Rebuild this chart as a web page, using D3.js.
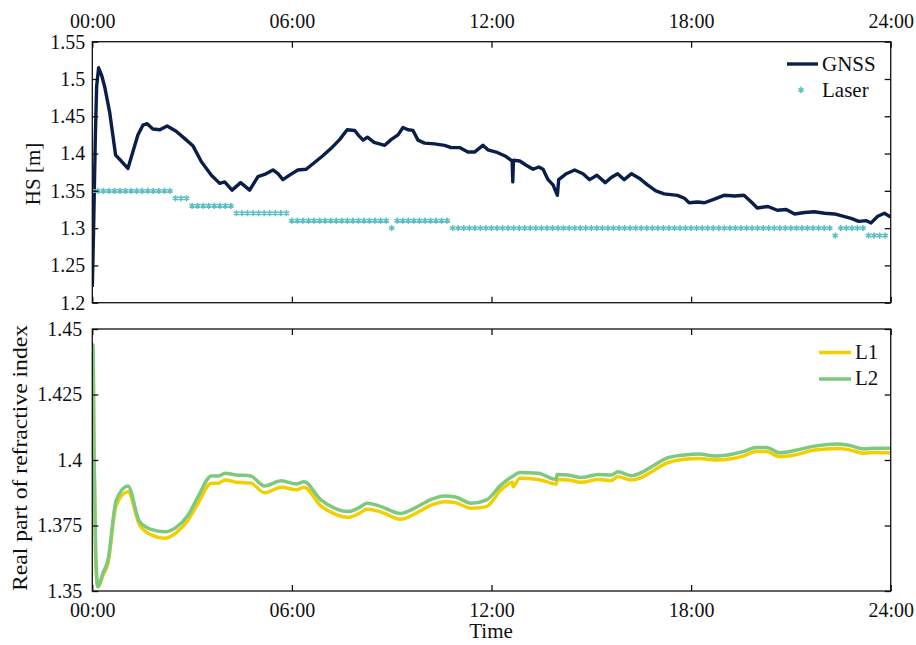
<!DOCTYPE html>
<html><head><meta charset="utf-8">
<script src="https://cdn.jsdelivr.net/npm/d3@7"></script>
<style>
html,body{margin:0;padding:0;background:#fff;}
text{font-family:"Liberation Serif","DejaVu Serif",serif;font-size:20px;fill:#111;}
.lab{font-size:21px;}
</style></head>
<body><svg id="c" width="916" height="645"></svg>
<script>
// ---------- DATA ----------
const xTickHours = [0, 6, 12, 18, 24];
const xTickLabels = ["00:00", "06:00", "12:00", "18:00", "24:00"];
const hsTicks = [1.2, 1.25, 1.3, 1.35, 1.4, 1.45, 1.5, 1.55];
const hsTickLabels = ["1.2", "1.25", "1.3", "1.35", "1.4", "1.45", "1.5", "1.55"];
const nTicks = [1.35, 1.375, 1.4, 1.425, 1.45];
const nTickLabels = ["1.35", "1.375", "1.4", "1.425", "1.45"];

const gnssHours = [0,0.04,0.09,0.13,0.19,0.28,0.37,0.52,0.70,0.87,1.07,1.37,1.52,1.65,1.82,2.03,2.25,2.52,2.78,3.03,3.28,3.58,3.83,3.98,4.20,4.46,4.73,4.98,5.18,5.43,5.58,5.73,5.93,6.18,6.43,6.68,6.93,7.18,7.44,7.66,7.89,8.01,8.14,8.27,8.47,8.79,8.99,9.19,9.34,9.49,9.64,9.79,9.99,10.29,10.59,10.79,11.04,11.29,11.49,11.74,11.89,12.14,12.44,12.62,12.64,12.66,12.85,13.02,13.25,13.42,13.55,13.70,13.85,13.98,14.02,14.25,14.5,14.75,14.95,15.17,15.42,15.6,15.79,15.99,16.21,16.44,16.69,16.94,17.19,17.59,17.8,17.94,18.2,18.4,18.7,18.99,19.31,19.59,19.81,19.99,20.31,20.59,20.86,21.11,21.41,21.71,22.01,22.31,22.56,22.81,23.04,23.27,23.41,23.61,23.81,24];
const gnssHS = [1.221,1.30,1.42,1.49,1.515,1.505,1.49,1.456,1.398,1.39,1.380,1.425,1.438,1.44,1.433,1.432,1.437,1.43,1.42,1.41,1.389,1.371,1.36,1.362,1.351,1.361,1.351,1.369,1.372,1.378,1.373,1.365,1.371,1.378,1.379,1.388,1.397,1.407,1.419,1.432,1.431,1.424,1.418,1.422,1.415,1.411,1.419,1.425,1.435,1.432,1.431,1.418,1.414,1.413,1.411,1.408,1.408,1.402,1.402,1.411,1.405,1.402,1.396,1.390,1.362,1.391,1.390,1.385,1.379,1.382,1.379,1.365,1.358,1.344,1.365,1.373,1.378,1.373,1.365,1.371,1.361,1.368,1.373,1.365,1.373,1.367,1.358,1.350,1.346,1.344,1.340,1.334,1.335,1.334,1.339,1.344,1.343,1.344,1.335,1.327,1.329,1.324,1.325,1.319,1.321,1.322,1.320,1.319,1.316,1.313,1.309,1.310,1.307,1.316,1.320,1.315];

// laser: one reading every 10 minutes (slot i -> i*10 min)
const laserIntervalMin = 10;
const laserHS = [
1.35,1.35,1.35,1.35,1.35,1.35,1.35,1.35,1.35,1.35,1.35,1.35,1.35,1.35,1.35,
1.34,1.34,1.34,
1.33,1.33,1.33,1.33,1.33,1.33,1.33,1.33,
1.32,1.32,1.32,1.32,1.32,1.32,1.32,1.32,1.32,1.32,
1.31,1.31,1.31,1.31,1.31,1.31,1.31,1.31,1.31,1.31,1.31,1.31,1.31,1.31,1.31,1.31,1.31,1.31,
1.30,
1.31,1.31,1.31,1.31,1.31,1.31,1.31,1.31,1.31,1.31,
1.30,1.30,1.30,1.30,1.30,1.30,1.30,1.30,1.30,1.30,1.30,1.30,1.30,1.30,1.30,1.30,1.30,1.30,1.30,1.30,
1.30,1.30,1.30,1.30,1.30,1.30,1.30,1.30,1.30,1.30,1.30,1.30,1.30,1.30,1.30,1.30,1.30,1.30,1.30,1.30,
1.30,1.30,1.30,1.30,1.30,1.30,1.30,1.30,1.30,1.30,1.30,1.30,1.30,1.30,1.30,1.30,1.30,1.30,1.30,1.30,
1.30,1.30,1.30,1.30,1.30,1.30,1.30,1.30,1.30,
1.29,
1.30,1.30,1.30,1.30,1.30,
1.29,1.29,1.29,1.29];

const l2Hours = [0,0.02,0.05,0.10,0.17,0.32,0.47,0.72,1.07,1.42,1.77,2.17,2.52,2.88,3.18,3.58,3.78,4.0,4.33,4.76,5.18,5.68,6.13,6.36,6.88,7.28,7.69,7.99,8.27,8.64,9.27,9.69,10.19,10.59,10.89,11.39,11.84,12.29,12.65,12.85,13.4,13.95,13.97,14.3,14.7,15.2,15.6,15.8,16.2,16.55,16.9,17.25,17.8,18.25,18.7,19.26,19.56,19.96,20.26,20.66,21.11,21.71,22.41,22.71,23.21,23.51,24];
const l2N = [1.418,1.444,1.405,1.365,1.3517,1.3568,1.3618,1.3847,1.3901,1.3765,1.3735,1.3726,1.3743,1.3790,1.3860,1.3939,1.3939,1.3949,1.3943,1.3939,1.3901,1.3921,1.3908,1.3917,1.3847,1.3816,1.3803,1.3816,1.3835,1.3824,1.3796,1.3816,1.3850,1.3863,1.3860,1.3835,1.3847,1.3905,1.3939,1.3952,1.3949,1.3926,1.3945,1.3943,1.3933,1.3945,1.3943,1.3955,1.3940,1.3955,1.3981,1.4006,1.4019,1.4023,1.4015,1.4023,1.4032,1.4048,1.4048,1.4028,1.4036,1.4053,1.4061,1.4057,1.4042,1.4045,1.4045];
const l1Hours = [0,0.02,0.05,0.10,0.17,0.32,0.47,0.72,1.07,1.42,1.77,2.17,2.52,2.88,3.18,3.58,3.78,4.0,4.33,4.76,5.18,5.68,6.13,6.36,6.88,7.28,7.69,7.99,8.27,8.64,9.27,9.69,10.19,10.59,10.89,11.39,11.84,12.29,12.63,12.65,12.85,13.4,13.95,13.97,14.3,14.7,15.2,15.6,15.8,16.2,16.55,16.9,17.25,17.8,18.25,18.7,19.26,19.56,19.96,20.26,20.66,21.11,21.71,22.41,22.71,23.21,23.51,24];
const l1N = [1.416,1.442,1.403,1.363,1.3515,1.3560,1.3605,1.3828,1.3879,1.3752,1.3714,1.3701,1.3722,1.3771,1.3835,1.3911,1.3911,1.3924,1.3915,1.3912,1.3875,1.3896,1.3886,1.3896,1.3824,1.3794,1.3781,1.3794,1.3812,1.3803,1.3774,1.3794,1.3828,1.3841,1.3838,1.3816,1.3822,1.3886,1.3915,1.3898,1.3930,1.3926,1.3908,1.3926,1.3924,1.3915,1.3926,1.3922,1.3936,1.3924,1.3936,1.3962,1.3987,1.4003,1.4006,1.4000,1.4006,1.4015,1.4032,1.4032,1.4013,1.4019,1.4038,1.4044,1.4040,1.4026,1.4029,1.4028];

// ---------- STYLE ----------
const C_GNSS = "#0a1f48", C_LASER = "#5bbfc5", C_L1 = "#f2cf00", C_L2 = "#7ec87f";
const svg = d3.select("#c");
const L = 92.3, R = 890.7;
const P1 = {top: 41.7, bottom: 302.7};
const P2 = {top: 329, bottom: 591};

const x = d3.scaleLinear().domain([0, 24]).range([L, R]);
const y1 = d3.scaleLinear().domain([1.2, 1.55]).range([P1.bottom, P1.top]);
const y2 = d3.scaleLinear().domain([1.35, 1.45]).range([P2.bottom, P2.top]);

function frame(y, P, topLabels, bottomLabels, yTicks, yLabels, yPad) {
  const g = svg.append("g");
  const fmtX = (d) => xTickLabels[xTickHours.indexOf(d)];
  const fmtY = (d) => yLabels[yTicks.indexOf(d)];
  const style = (sel) => { sel.select(".domain").remove(); sel.selectAll("line").attr("stroke", "#111").attr("stroke-width", 1.3); sel.selectAll("text").attr("font-size", null).attr("font-family", null); };
  g.append("g").attr("transform", `translate(0,${P.bottom})`)
    .call(d3.axisBottom(x).tickValues(xTickHours).tickSizeInner(-6).tickSizeOuter(0).tickPadding(bottomLabels ? 11.5 : 0).tickFormat(bottomLabels ? fmtX : ""))
    .call(style);
  g.append("g").attr("transform", `translate(0,${P.top})`)
    .call(d3.axisTop(x).tickValues(xTickHours).tickSizeInner(-6).tickSizeOuter(0).tickPadding(topLabels ? 13.5 : 0).tickFormat(topLabels ? fmtX : ""))
    .call(style);
  g.append("g").attr("transform", `translate(${L},0)`)
    .call(d3.axisLeft(y).tickValues(yTicks).tickSizeInner(-6).tickSizeOuter(0).tickPadding(yPad).tickFormat(fmtY))
    .call(style);
  g.append("g").attr("transform", `translate(${R},0)`)
    .call(d3.axisRight(y).tickValues(yTicks).tickSizeInner(-6).tickSizeOuter(0).tickFormat(""))
    .call(style);
  g.selectAll("text").attr("fill", "#111");
  return g;
}

// ---------- TOP PANEL ----------
svg.append("clipPath").attr("id", "cp1").append("rect")
  .attr("x", L).attr("y", P1.top).attr("width", R - L).attr("height", P1.bottom - P1.top);
const g1 = svg.append("g").attr("clip-path", "url(#cp1)");
const gnss = gnssHours.map((h, i) => [h, gnssHS[i]]);
g1.append("path").datum(gnss)
  .attr("d", d3.line().x(d => x(d[0])).y(d => y1(d[1])))
  .attr("fill", "none").attr("stroke", C_GNSS).attr("stroke-width", 3.4).attr("stroke-linejoin", "round");
const ast = d3.symbol().type(d3.symbolAsterisk).size(27);
g1.selectAll("path.laser").data(laserHS).join("path").attr("class", "laser")
  .attr("transform", (d, i) => `translate(${x(i * laserIntervalMin / 60)},${y1(d)})`)
  .attr("d", ast).attr("fill", "none").attr("stroke", C_LASER).attr("stroke-width", 1.5);
frame(y1, P1, true, false, hsTicks, hsTickLabels, 7);
svg.append("rect").attr("x", L).attr("y", P1.top).attr("width", R - L).attr("height", P1.bottom - P1.top)
  .attr("fill", "none").attr("stroke", "#111").attr("stroke-width", 1.3);

// legend 1
svg.append("line").attr("x1", 787).attr("x2", 818).attr("y1", 64).attr("y2", 64).attr("stroke", C_GNSS).attr("stroke-width", 3.4);
svg.append("text").attr("class", "lab").attr("x", 822).attr("y", 70.7).text("GNSS");
svg.append("path").attr("transform", "translate(801,90)").attr("d", ast).attr("fill", "none").attr("stroke", C_LASER).attr("stroke-width", 1.5);
svg.append("text").attr("class", "lab").attr("x", 822).attr("y", 96.7).text("Laser");

// ---------- BOTTOM PANEL ----------
svg.append("clipPath").attr("id", "cp2").append("rect")
  .attr("x", L).attr("y", P2.top).attr("width", R - L).attr("height", P2.bottom - P2.top);
const g2 = svg.append("g").attr("clip-path", "url(#cp2)");
const ln2 = d3.line().x(d => x(d[0])).y(d => y2(d[1])).curve(d3.curveMonotoneX);
g2.append("path").datum(l1Hours.map((h, i) => [h, l1N[i]])).attr("d", ln2)
  .attr("fill", "none").attr("stroke", C_L1).attr("stroke-width", 3.5).attr("stroke-linejoin", "round");
g2.append("path").datum(l2Hours.map((h, i) => [h, l2N[i]])).attr("d", ln2)
  .attr("fill", "none").attr("stroke", C_L2).attr("stroke-width", 3.5).attr("stroke-linejoin", "round");
frame(y2, P2, false, true, nTicks, nTickLabels, 10);
svg.append("rect").attr("x", L).attr("y", P2.top).attr("width", R - L).attr("height", P2.bottom - P2.top)
  .attr("fill", "none").attr("stroke", "#111").attr("stroke-width", 1.3);

// legend 2
svg.append("line").attr("x1", 819).attr("x2", 851).attr("y1", 352.5).attr("y2", 352.5).attr("stroke", C_L1).attr("stroke-width", 3.5);
svg.append("text").attr("class", "lab").attr("x", 855).attr("y", 358.5).text("L1");
svg.append("line").attr("x1", 819).attr("x2", 851).attr("y1", 379).attr("y2", 379).attr("stroke", C_L2).attr("stroke-width", 3.5);
svg.append("text").attr("class", "lab").attr("x", 855).attr("y", 385).text("L2");

// axis titles
svg.append("text").attr("class", "lab").attr("transform", "translate(40,174) rotate(-90)").attr("text-anchor", "middle").text("HS [m]");
svg.append("text").attr("class", "lab").attr("transform", "translate(26.5,458) rotate(-90)").attr("text-anchor", "middle")
  .attr("textLength", 266).attr("lengthAdjust", "spacingAndGlyphs").text("Real part of refractive index");
svg.append("text").attr("class", "lab").attr("x", 491).attr("y", 638).attr("text-anchor", "middle").text("Time");
</script></body></html>
